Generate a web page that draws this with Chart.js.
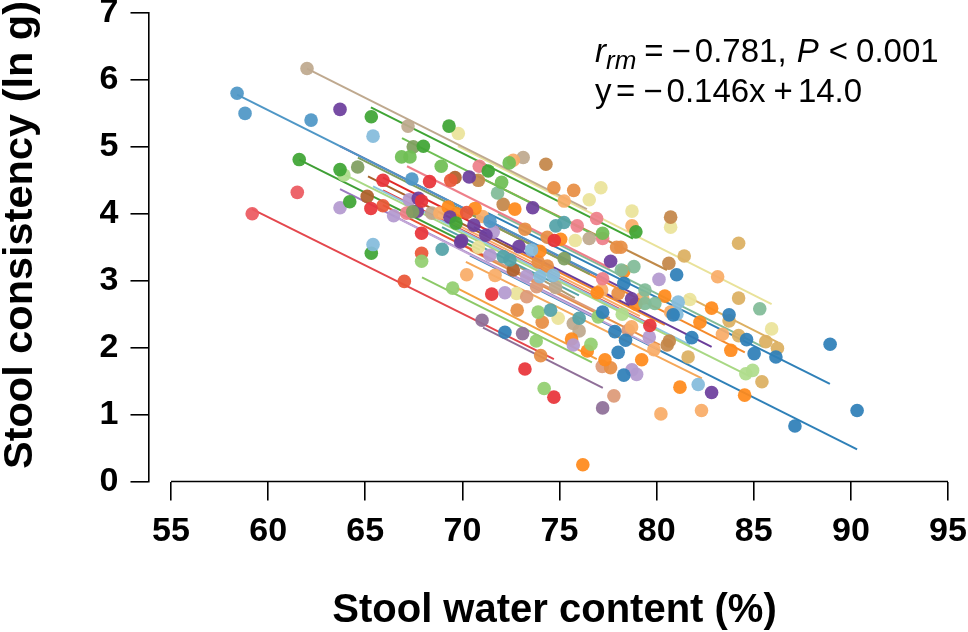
<!DOCTYPE html>
<html>
<head>
<meta charset="utf-8">
<title>Stool consistency vs water content</title>
<script src="https://cdn.jsdelivr.net/npm/chart.js@4/dist/chart.umd.min.js"></script>
<style>
  html, body { margin: 0; padding: 0; background: #fff; }
  canvas { display: block; }
</style>
</head>
<body>
<canvas id="scatterChart" width="968" height="632"></canvas>
<script>
var xTicks = [55, 60, 65, 70, 75, 80, 85, 90, 95];
var yTicks = [0, 1, 2, 3, 4, 5, 6, 7];

// points, one pair of arrays per colour
var steelX = [58.40, 58.81, 62.21, 67.40, 71.42];
var steelY = [5.80, 5.50, 5.40, 4.52, 3.89];
var blueX = [77.22, 77.85, 78.40, 78.02, 78.31, 72.19, 78.31, 81.03, 80.85, 81.81, 83.73, 84.63, 85.02, 86.14, 88.93, 87.12, 90.32];
var blueY = [2.53, 2.24, 2.11, 1.93, 1.59, 2.23, 2.96, 3.09, 2.49, 2.15, 2.49, 2.12, 1.91, 1.86, 2.05, 0.83, 1.06];
var tealX = [68.96, 74.81, 75.23, 74.54, 72.10, 72.45, 76.01];
var tealY = [3.47, 3.82, 3.87, 2.56, 3.36, 3.31, 2.44];
var skyX = [65.40, 65.40, 73.56, 73.99, 74.68, 81.11, 82.14, 81.04];
var skyY = [5.16, 3.54, 3.46, 3.06, 3.08, 2.68, 1.45, 2.50];
var greenX = [65.31, 61.60, 63.70, 64.20, 65.31, 69.31, 67.99, 71.33, 78.93, 69.67];
var greenY = [5.45, 4.81, 4.66, 4.18, 3.41, 5.31, 5.01, 4.64, 3.73, 3.86];
var leafX = [66.87, 67.30, 68.91, 72.41, 72.02, 77.22];
var leafY = [4.85, 4.85, 4.71, 4.76, 4.47, 3.71];
var limeX = [67.90, 69.50, 73.90, 73.80, 76.62, 74.21, 76.99];
var limeY = [3.29, 2.89, 2.53, 2.10, 2.05, 1.39, 2.46];
var paleGreenX = [63.90, 78.23, 84.94, 84.59];
var paleGreenY = [4.58, 2.50, 1.66, 1.61];
var oliveX = [64.61, 67.47, 67.44, 75.24];
var oliveY = [4.70, 5.00, 4.03, 3.33];
var seaX = [71.81, 78.83, 78.18, 79.40, 79.40, 79.91, 85.31];
var seaY = [4.31, 3.21, 3.16, 2.86, 2.66, 2.66, 2.58];
var redX = [65.91, 68.31, 65.29, 67.90, 67.90, 74.73, 79.65, 71.51, 73.22, 74.71];
var redY = [4.50, 4.48, 4.08, 4.19, 3.71, 3.60, 2.33, 2.80, 1.68, 1.26];
var coralX = [61.50, 59.18];
var coralY = [4.32, 4.00];
var vermilionX = [69.40, 65.91, 67.90, 67.01, 70.22];
var vermilionY = [4.50, 4.12, 3.41, 2.99, 4.02];
var pinkX = [70.87, 67.13, 76.91, 75.91, 77.22, 77.22];
var pinkY = [4.71, 4.01, 3.93, 3.82, 3.63, 3.03];
var purpleX = [70.35, 67.68, 67.73, 73.62, 69.36, 69.91, 70.59, 71.21, 69.96, 72.91, 77.63, 82.83, 78.71, 63.70];
var purpleY = [4.55, 4.04, 4.23, 4.09, 3.95, 3.58, 3.83, 3.68, 3.60, 3.51, 3.29, 1.33, 2.73, 5.56];
var lilacX = [66.46, 63.70, 67.26, 71.59, 71.42, 73.31, 72.19, 80.12, 75.71, 79.62, 78.97, 78.73];
var lilacY = [3.97, 4.09, 4.21, 3.73, 3.38, 3.07, 2.82, 3.02, 2.04, 2.16, 1.60, 1.67];
var mauveX = [71.01, 73.10, 77.22];
var mauveY = [2.41, 2.21, 1.10];
var orangeX = [72.70, 70.65, 75.06, 69.27, 69.70, 78.31, 76.94, 78.93, 80.42, 76.20, 76.43, 75.62, 79.23, 81.20, 82.83, 82.23, 83.82, 84.53, 77.34, 73.99];
var orangeY = [4.07, 4.08, 3.62, 4.10, 4.00, 3.14, 2.82, 2.65, 2.77, 0.25, 1.95, 2.13, 1.82, 1.41, 2.59, 2.38, 1.96, 1.29, 1.82, 3.44];
var peachX = [72.62, 75.24, 78.73, 71.04, 68.84, 77.17, 79.28, 80.72, 78.71, 79.86, 83.14, 83.39, 80.22, 82.31, 71.68, 70.22];
var peachY = [4.80, 4.19, 3.82, 3.96, 4.01, 2.86, 2.74, 2.53, 2.31, 1.97, 3.06, 2.20, 1.01, 1.06, 3.08, 3.09];
var amberX = [74.71, 75.73, 74.37, 73.90, 72.82, 74.11, 73.22, 74.37, 78.02, 74.03, 77.63, 77.94, 78.16];
var amberY = [4.39, 4.35, 3.22, 3.28, 2.56, 2.38, 3.77, 3.65, 2.81, 1.88, 1.70, 3.50, 3.50];
var salmonX = [73.82, 73.31, 77.80, 78.54, 77.20];
var salmonY = [2.91, 2.76, 1.28, 2.26, 1.72];
var brownX = [74.30, 70.82, 72.10, 80.72, 80.63, 80.54, 80.65];
var brownY = [4.74, 4.50, 4.14, 3.95, 3.26, 2.04, 2.10];
var rustX = [69.62, 65.10, 72.62];
var rustY = [4.54, 4.26, 3.16];
var tanX = [62.00, 67.20, 73.13, 68.42, 76.53, 74.80, 76.01, 75.71];
var tanY = [6.17, 5.31, 4.84, 4.01, 3.63, 2.90, 2.25, 2.36];
var goldX = [81.42, 84.22, 84.22, 83.73, 84.22, 85.62, 86.22, 81.62, 85.42];
var goldY = [3.37, 3.56, 2.74, 2.40, 2.18, 2.09, 1.99, 1.86, 1.49];
var yellowX = [69.79, 77.13, 76.53, 78.73, 80.72, 75.81, 70.82, 72.79, 74.93, 81.71, 85.92];
var yellowY = [5.20, 4.39, 4.21, 4.04, 3.80, 3.60, 3.50, 2.81, 2.44, 2.72, 2.28];

// per-subject fit lines: start and end
var lineX1 = [62.00, 65.29, 69.77, 58.40, 63.70, 64.62, 61.59, 63.90, 65.40, 59.17, 67.15, 66.89, 70.80, 71.83, 81.45, 70.23, 70.18, 69.72, 67.92, 71.06, 66.48, 68.95, 63.70, 65.91, 65.91, 65.91, 65.14, 71.31, 70.39, 70.59, 72.96, 69.36, 72.19, 69.62, 70.39];
var lineY1 = [6.17, 5.59, 5.01, 5.78, 5.01, 4.84, 4.81, 4.59, 4.41, 4.07, 4.71, 5.13, 4.56, 4.00, 2.78, 4.02, 3.28, 2.89, 3.05, 2.30, 3.96, 3.80, 4.37, 4.35, 4.54, 4.13, 4.56, 4.01, 3.38, 3.80, 3.20, 3.89, 3.53, 3.60, 3.46];
var lineX2 = [76.41, 78.78, 85.92, 77.39, 78.78, 76.56, 70.90, 84.80, 81.71, 74.71, 77.59, 77.23, 80.53, 85.47, 86.24, 84.54, 82.33, 76.92, 76.67, 77.23, 80.01, 76.00, 77.08, 79.65, 71.31, 71.31, 72.60, 88.92, 90.32, 82.83, 75.79, 79.14, 80.42, 77.59, 80.17];
var lineY2 = [4.07, 3.63, 2.65, 3.02, 2.81, 3.10, 3.46, 1.57, 2.04, 1.83, 3.19, 3.62, 3.16, 2.01, 2.08, 1.93, 1.54, 1.83, 1.78, 1.40, 1.99, 2.78, 2.43, 2.35, 3.75, 3.34, 3.47, 1.46, 0.48, 2.01, 2.74, 2.47, 2.34, 2.44, 2.04];
var lineColors = ['#bfa98f', '#3fa535', '#e9e29a', '#4f97c6', '#6d3f9e', '#7f9f5f', '#3f9f35', '#a8d884', '#8fc6e0', '#e4474d', '#ee7f8a', '#6fbf55', '#c08a4a', '#82bc98', '#dcb062', '#f58a2a', '#f5a85a', '#f5a040', '#8cc968', '#8f6f98', '#c4a8d8', '#55a3a8', '#9a7ac0', '#e8343a', '#e02a2a', '#e8502f', '#a8602c', '#2f80b8', '#2f80b8', '#6a3d9a', '#b09a70', '#f9ac68', '#f58a2a', '#dd9a78', '#e78f45'];

var dotGroups = [
  [steelX, steelY, '#4f97c6'], [blueX, blueY, '#2f80b8'], [tealX, tealY, '#55a3a8'], [skyX, skyY, '#85bbdc'],
  [greenX, greenY, '#3fa535'], [leafX, leafY, '#6fbf55'], [limeX, limeY, '#93cf70'], [paleGreenX, paleGreenY, '#b0dd8c'],
  [oliveX, oliveY, '#7f9f5f'], [seaX, seaY, '#82bc98'], [redX, redY, '#e8343a'], [coralX, coralY, '#ec5a60'],
  [vermilionX, vermilionY, '#ea5738'], [pinkX, pinkY, '#ee7f8a'], [purpleX, purpleY, '#6d3f9e'], [lilacX, lilacY, '#b49ad0'],
  [mauveX, mauveY, '#8f6f98'], [orangeX, orangeY, '#ff8a1c'], [peachX, peachY, '#f9ac68'], [amberX, amberY, '#e78f45'],
  [salmonX, salmonY, '#dd9a78'], [brownX, brownY, '#c4874a'], [rustX, rustY, '#b0602c'], [tanX, tanY, '#bfa98f'],
  [goldX, goldY, '#dcb062'], [yellowX, yellowY, '#ebe39a']
];

function toPoints(xArr, yArr) {
  var arr = [];
  for (var i = 0; i < xArr.length; i++) {
    arr.push({ x: xArr[i], y: yArr[i] });
  }
  return arr;
}

var datasets = [];
for (var i = 0; i < lineX1.length; i++) {
  datasets.push({
    type: 'scatter',
    data: [{ x: lineX1[i], y: lineY1[i] }, { x: lineX2[i], y: lineY2[i] }],
    showLine: true,
    borderColor: lineColors[i],
    borderWidth: 2,
    pointRadius: 0,
    order: 2
  });
}
dotGroups.forEach(function (g) {
  datasets.push({
    type: 'scatter',
    data: toPoints(g[0], g[1]),
    backgroundColor: g[2] + 'ee',
    borderWidth: 0,
    pointRadius: 6.8,
    order: 1
  });
});

var boldTick = { family: '"Liberation Sans", Arial, sans-serif', size: 34, weight: 'bold' };
var textFont = '"Liberation Sans", Arial, sans-serif';

// text runs with their own style, used for the r_rm annotation
function drawRuns(ctx, runs, x, y) {
  runs.forEach(function (r) {
    ctx.font = r.style + ' ' + r.size + 'px ' + textFont;
    ctx.fillText(r.text, x, y + (r.dy || 0));
    x += ctx.measureText(r.text).width + (r.gap || 0);
  });
}

var extras = {
  id: 'extras',
  afterDraw: function (chart) {
    var ctx = chart.ctx;
    var sx = chart.scales.x, sy = chart.scales.y;
    ctx.save();
    ctx.strokeStyle = '#000';
    ctx.lineWidth = 1.6;
    ctx.beginPath();
    ctx.moveTo(sx.getPixelForValue(xTicks[0]), sy.getPixelForValue(0));
    ctx.lineTo(sx.getPixelForValue(xTicks[xTicks.length - 1]), sy.getPixelForValue(0));
    ctx.stroke();

    ctx.fillStyle = '#000';
    ctx.textBaseline = 'alphabetic';
    ctx.textAlign = 'center';
    ctx.font = 'bold 40px ' + textFont;
    ctx.fillText('Stool water content (%)', 554.5, 622);
    ctx.save();
    ctx.translate(32, 235);
    ctx.rotate(-Math.PI / 2);
    ctx.font = 'bold 41.5px ' + textFont;
    ctx.fillText('Stool consistency (ln g)', 0, 0);
    ctx.restore();

    ctx.textAlign = 'left';
    drawRuns(ctx, [
      { text: 'r', style: 'italic', size: 33 },
      { text: 'rm', style: 'italic', size: 26, dy: 7, gap: 8 },
      { text: '=', style: 'normal', size: 33, gap: 8 },
      { text: '\u2212', style: 'normal', size: 33, gap: 4 },
      { text: '0.781, ', style: 'normal', size: 33, gap: 1 },
      { text: 'P', style: 'italic', size: 33, gap: 10 },
      { text: '<', style: 'normal', size: 33, gap: 8 },
      { text: '0.001', style: 'normal', size: 33 }
    ], 595, 62);
    drawRuns(ctx, [
      { text: 'y', style: 'normal', size: 33, gap: 4.5 },
      { text: '=', style: 'normal', size: 33, gap: 8 },
      { text: '\u2212', style: 'normal', size: 33, gap: 4 },
      { text: '0.146x', style: 'normal', size: 33, gap: 8 },
      { text: '+', style: 'normal', size: 33, gap: 5 },
      { text: '14.0', style: 'normal', size: 33 }
    ], 595, 102);
    ctx.restore();
  }
};

var chart = new Chart(document.getElementById('scatterChart'), {
  type: 'scatter',
  data: { datasets: datasets },
  plugins: [extras],
  options: {
    responsive: false,
    animation: false,
    layout: { padding: { top: 13, right: 20, left: 0, bottom: 0 } },
    plugins: { legend: { display: false }, tooltip: { enabled: false } },
    scales: {
      x: {
        type: 'linear',
        min: 53.84,
        max: 95,
        afterBuildTicks: function (axis) { axis.ticks = xTicks.map(function (v) { return { value: v }; }); },
        afterFit: function (axis) { axis.height = 150.5; axis.paddingLeft = 0; axis.paddingRight = 0; },
        border: { display: false },
        grid: { drawOnChartArea: false, color: '#000', lineWidth: 1.6, tickLength: 19 },
        ticks: { color: '#000', font: boldTick, padding: 11, maxRotation: 0, autoSkip: false }
      },
      y: {
        type: 'linear',
        min: 0,
        max: 7,
        afterBuildTicks: function (axis) { axis.ticks = yTicks.map(function (v) { return { value: v }; }); },
        afterFit: function (axis) { axis.width = 148.5; axis.paddingTop = 0; axis.paddingBottom = 0; },
        border: { color: '#000', width: 1.6 },
        grid: { drawOnChartArea: false, color: '#000', lineWidth: 1.6, tickLength: 18 },
        ticks: { color: '#000', font: boldTick, padding: 12, autoSkip: false }
      }
    }
  }
});
</script>
</body>
</html>
